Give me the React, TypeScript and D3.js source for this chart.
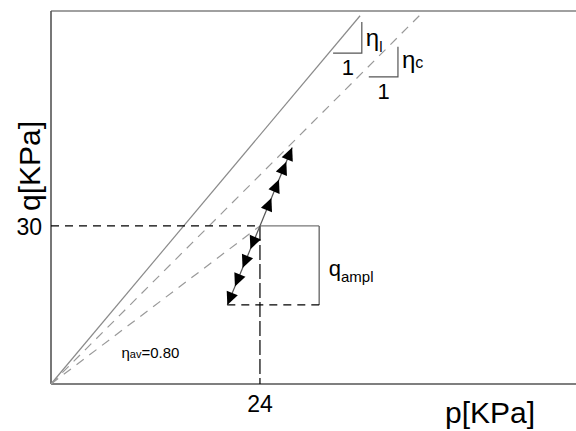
import React from "react";
import * as d3 from "d3";

// Data (p, q in KPa)
const limitLine: [number, number][] = [[0, 0], [35.5, 69.9]];
const criticalLine: [number, number][] = [[0, 0], [42.3, 69.9]];
const averageLine: [number, number][] = [[0, 0], [24, 30]];
const pathUp: [number, number][] = [[24, 30], [27.7, 44.9]];
const pathDown: [number, number][] = [[24, 30], [20.25, 15]];
const upArrowQ = [35.3, 38.8, 42.2, 44.9];
const downArrowQ = [25.6, 22.0, 18.5, 15];
const refPoint: [number, number] = [24, 30];
const amplBox = { pRight: 30.8, qBottom: 15 };
const xTicks = [24];
const yTicks = [30];
const etaAvgLabel = "0.80";

const W = 576, H = 431;
const M = { left: 51, top: 11, right: 0, bottom: 47 };

export default function App() {
  const x = d3.scaleLinear().domain([0, 60.3]).range([M.left, W - M.right]);
  const y = d3.scaleLinear().domain([0, 70.8]).range([H - M.bottom, M.top]);
  const line = d3.line<[number, number]>().x(d => x(d[0])).y(d => y(d[1]));
  const font = "'Liberation Sans', Arial, sans-serif";

  const pAt = (seg: [number, number][], q: number) => {
    const [a, b] = seg;
    const t = (q - a[1]) / (b[1] - a[1]);
    return a[0] + t * (b[0] - a[0]);
  };
  const arrow = (seg: [number, number][], q: number, key: string) => {
    const [a, b] = seg;
    const tipX = x(pAt(seg, q)), tipY = y(q);
    const dx = x(b[0]) - x(a[0]), dy = y(b[1]) - y(a[1]);
    const len = Math.hypot(dx, dy);
    const ux = dx / len, uy = dy / len;
    const L = 13, hw = 6;
    const bx = tipX - ux * L, by = tipY - uy * L;
    const pts = [
      [tipX, tipY],
      [bx - uy * hw, by + ux * hw],
      [bx + uy * hw, by - ux * hw],
    ];
    return <polygon key={key} points={pts.map(p => p.join(",")).join(" ")} fill="#000" />;
  };

  const x0 = x(0), y0 = y(0);
  const rx = x(refPoint[0]), ry = y(refPoint[1]);

  return (
    <svg width={W} height={H} style={{ position: "absolute", left: 0, top: 0, background: "#fff" }}>
      {/* frame */}
      <line x1={x0} x2={W} y1={M.top} y2={M.top} stroke="#808080" strokeWidth={1.6} />
      <line x1={x0} x2={W} y1={y0} y2={y0} stroke="#555" strokeWidth={1.6} />
      <line x1={x0} x2={x0} y1={M.top} y2={y0} stroke="#555" strokeWidth={1.6} />

      {/* lines */}
      <path d={line(limitLine)!} stroke="#8a8a8a" strokeWidth={1.2} fill="none" />
      <path d={line(criticalLine)!} stroke="#999" strokeWidth={1.2} strokeDasharray="9,7" fill="none" />
      <path d={line(averageLine)!} stroke="#999" strokeWidth={1.2} strokeDasharray="9,7" fill="none" />

      {/* reference dashed lines */}
      <line x1={x0} x2={rx} y1={ry} y2={ry} stroke="#000" strokeWidth={1.2} strokeDasharray="8,6" />
      <line x1={rx} x2={rx} y1={ry} y2={y0} stroke="#000" strokeWidth={1.2} strokeDasharray="15,4" />

      {/* amplitude box */}
      <line x1={rx} x2={x(amplBox.pRight)} y1={ry} y2={ry} stroke="#777" strokeWidth={1.2} />
      <line x1={x(amplBox.pRight)} x2={x(amplBox.pRight)} y1={ry} y2={y(amplBox.qBottom)} stroke="#555" strokeWidth={1.2} />
      <line x1={x(pathDown[1][0])} x2={x(amplBox.pRight)} y1={y(amplBox.qBottom)} y2={y(amplBox.qBottom)} stroke="#000" strokeWidth={1.2} strokeDasharray="8,6" />

      {/* load path */}
      <path d={line(pathUp)!} stroke="#555" strokeWidth={1.2} fill="none" />
      <path d={line(pathDown)!} stroke="#555" strokeWidth={1.2} fill="none" />
      {upArrowQ.map((q, i) => arrow(pathUp, q, "u" + i))}
      {downArrowQ.map((q, i) => arrow(pathDown, q, "d" + i))}

      {/* slope triangles */}
      <path d={`M${x(32.4)},${y(62.8)} H${x(35.7)} V${y(68.7)}`} stroke="#555" strokeWidth={1.2} fill="none" />
      <path d={`M${x(36.5)},${y(58.3)} H${x(39.85)} V${y(64.0)}`} stroke="#555" strokeWidth={1.2} fill="none" />
      <text x={x(34.1)} y={y(62.8) + 22} fontFamily={font} fontSize={22} textAnchor="middle">1</text>
      <text x={x(38.2)} y={y(58.3) + 22} fontFamily={font} fontSize={22} textAnchor="middle">1</text>
      <text x={x(35.7) + 4} y={y(62.8) - 7} fontFamily={font} fontSize={24}>η<tspan fontSize={15} dy={6}>l</tspan></text>
      <text x={x(39.85) + 4} y={y(58.3) - 9} fontFamily={font} fontSize={24}>η<tspan fontSize={16} dy={0}>c</tspan></text>

      {/* q ampl */}
      <text x={x(31.9)} y={y(20.5)} fontFamily={font} fontSize={22}>q<tspan fontSize={15} dy={6}>ampl</tspan></text>

      {/* eta av */}
      <text x={x(8.1)} y={y(5.0)} fontFamily={font} fontSize={15}>η<tspan fontSize={11}>av</tspan>={etaAvgLabel}</text>

      {/* ticks */}
      {xTicks.map(t => (
        <text key={t} x={x(t)} y={y0 + 28} fontFamily={font} fontSize={23} textAnchor="middle">{t}</text>
      ))}
      {yTicks.map(t => (
        <text key={t} x={x0 - 9} y={y(t) + 9} fontFamily={font} fontSize={23} textAnchor="end">{t}</text>
      ))}

      {/* axis titles */}
      <text x={490} y={423} fontFamily={font} fontSize={30} textAnchor="middle">p[KPa]</text>
      <text transform={`translate(40,166) rotate(-90)`} fontFamily={font} fontSize={30} textAnchor="middle">q[KPa]</text>
    </svg>
  );
}
